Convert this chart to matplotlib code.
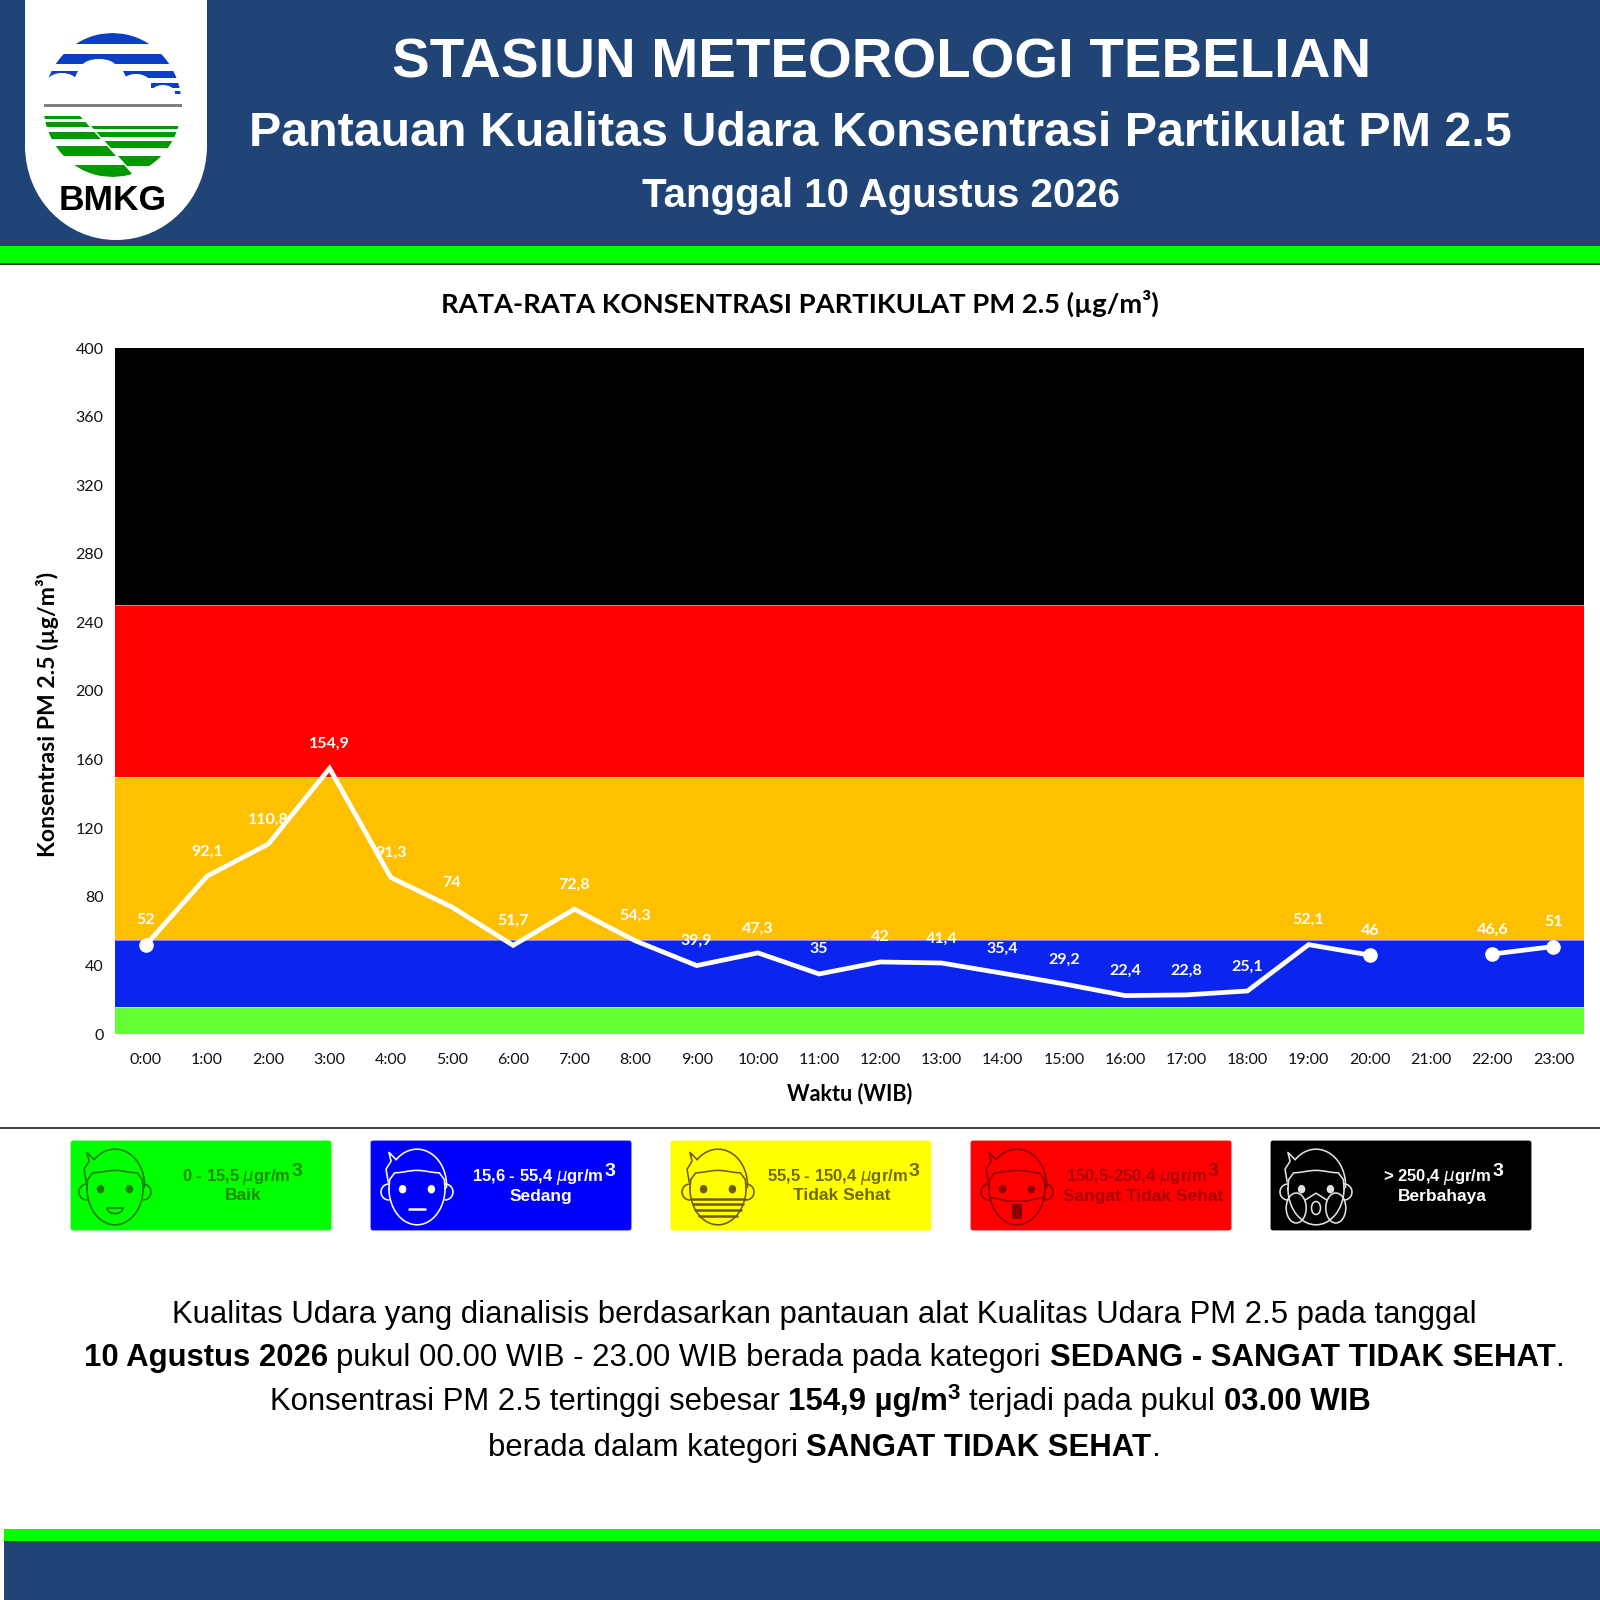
import numpy as np
import matplotlib
matplotlib.use("Agg")
import matplotlib.pyplot as plt
from matplotlib.patches import Rectangle, FancyBboxPatch, PathPatch, Ellipse, Polygon
from matplotlib.path import Path
from matplotlib.font_manager import FontProperties

hours = ["0:00","1:00","2:00","3:00","4:00","5:00","6:00","7:00","8:00","9:00","10:00","11:00",
         "12:00","13:00","14:00","15:00","16:00","17:00","18:00","19:00","20:00","21:00","22:00","23:00"]
pm25 = [52, 92.1, 110.8, 154.9, 91.3, 74, 51.7, 72.8, 54.3, 39.9, 47.3, 35,
        42, 41.4, 35.4, 29.2, 22.4, 22.8, 25.1, 52.1, 46, None, 46.6, 51]
band_edges = [0, 15.5, 54.7, 150, 250.4, 400]
band_colors = ["#66FF33", "#0B24EE", "#FFC000", "#FF0000", "#000000"]
yticks = list(range(0, 401, 40))

legend_ranges = ["0 - 15,5 $\\mu$gr/m", "15,6 - 55,4 $\\mu$gr/m", "55,5 - 150,4 $\\mu$gr/m",
                 "150,5-250,4 $\\mu$gr/m", "> 250,4 $\\mu$gr/m"]
legend_names = ["Baik", "Sedang", "Tidak Sehat", "Sangat Tidak Sehat", "Berbahaya"]
legend_fill = ["#00FF00", "#0000FF", "#FFFF00", "#FF0000", "#000000"]
legend_ink = ["#1F8A00", "#FFFFFF", "#6F6A00", "#A80000", "#FFFFFF"]
legend_icon = ["#1B7A00", "#FFFFFF", "#6B5A00", "#8A0000", "#E0E0E0"]
legend_kind = ["smile", "flat", "mask", "n95", "gas"]

NAVY = "#204476"
LIME = "#00FF00"
SANS = "Liberation Sans"
CHART = "Lato"

fig = plt.figure(figsize=(16, 16), dpi=100, facecolor="white")
bg = fig.add_axes([0, 0, 1, 1], zorder=0)
bg.set_xlim(0, 1600); bg.set_ylim(1600, 0); bg.axis("off")

# header and footer
bg.add_patch(Rectangle((0, 0), 1600, 246, color=NAVY, lw=0))
bg.add_patch(Rectangle((0, 246), 1600, 17, color=LIME, lw=0))
bg.add_patch(Rectangle((0, 263), 1600, 2, color="#1a3a1a", lw=0))
bg.add_patch(Rectangle((4, 1529), 1596, 12, color=LIME, lw=0))
bg.add_patch(Rectangle((4, 1541), 1596, 59, color=NAVY, lw=0))
bg.add_patch(Rectangle((0, 1127), 1600, 1.6, color="#444444", lw=0))

# logo shield
shield = Path([(25, 0), (207, 0), (207, 145), (207, 200), (165, 240), (116, 240), (67, 240), (25, 200), (25, 145), (25, 0)],
              [Path.MOVETO, Path.LINETO, Path.LINETO, Path.CURVE4, Path.CURVE4, Path.CURVE4, Path.CURVE4, Path.CURVE4, Path.CURVE4, Path.CLOSEPOLY])
bg.add_patch(PathPatch(shield, fc="white", ec="none"))

LOGO_CX, LOGO_CY, LOGO_RX, LOGO_RY = 112.5, 105, 69, 72
def half_width(y):
    return LOGO_RX*np.sqrt(np.clip(1 - ((y - LOGO_CY)/LOGO_RY)**2, 0, 1))
def stripe(y0, y1, color, xmin=None, xmax=None, zorder=2):
    ys = np.linspace(y0, y1, 12)
    xl = LOGO_CX - half_width(ys)
    xr = LOGO_CX + half_width(ys)
    if xmin is not None:
        xl = np.maximum(xl, xmin(ys))
    if xmax is not None:
        xr = np.minimum(xr, xmax(ys))
    pts = np.r_[np.c_[xl, ys], np.c_[xr, ys][::-1]]
    bg.add_patch(Polygon(pts, closed=True, color=color, lw=0, zorder=zorder))

BLUE = "#0B3FC4"
GREEN = "#009900"
stripe(33, 44, BLUE)
stripe(54, 64, BLUE)
stripe(71, 78, BLUE, xmax=lambda y: 78 - (y-71)*0.5)
stripe(71, 78, BLUE, xmin=lambda y: 123 + (y-71)*0.5)
stripe(83, 88, BLUE, xmin=lambda y: 151 + 0*y)
stripe(91, 94, BLUE, xmin=lambda y: 170 + 0*y)
for cx, cy, w, h in [(99, 68, 36, 18), (62, 82, 30, 18), (136, 84, 30, 20), (163, 93, 24, 16)]:
    bg.add_patch(Ellipse((cx, cy), w, h, color="white", lw=0, zorder=3))
bg.add_patch(Rectangle((44, 104), 138, 2.6, color="#808080", lw=0, zorder=4))
diag_l = lambda y: 80 + (y - 116)*0.9
diag_r = lambda y: 91 + (y - 126)*0.9
for y0, y1 in [(116, 119), (122, 127), (132, 139), (146, 156), (165, 177)]:
    stripe(y0, y1, GREEN, xmax=diag_l)
for y0, y1 in [(126, 129), (132, 137), (141, 148), (156, 166)]:
    stripe(y0, y1, GREEN, xmin=diag_r)
bg.text(113, 201, "BMKG", family=SANS, weight="bold", fontsize=25.5, color="black", ha="center", va="center", zorder=5)

# header text
bg.text(882, 63, "STASIUN METEOROLOGI TEBELIAN", family=SANS, weight="bold", fontsize=40.6, color="white", ha="center", va="center")
bg.text(880, 134, "Pantauan Kualitas Udara Konsentrasi Partikulat PM 2.5", family=SANS, weight="bold", fontsize=34.8, color="white", ha="center", va="center")
bg.text(881, 196, "Tanggal 10 Agustus 2026", family=SANS, weight="bold", fontsize=29, color="white", ha="center", va="center")
bg.text(800, 303, "RATA-RATA KONSENTRASI PARTIKULAT PM 2.5 (µg/m³)", family=CHART, weight="bold", fontsize=19.7, color="black", ha="center", va="center")

# chart
ax = fig.add_axes([115.4/1600, (1600-1034)/1600, (1584-115.4)/1600, 686/1600], zorder=2)
ax.patch.set_alpha(0)
x = np.arange(len(hours))
for lo, hi, c in zip(band_edges[:-1], band_edges[1:], band_colors):
    ax.axhspan(lo, hi, color=c, lw=0, zorder=1)
for e in band_edges[1:-1]:
    ax.axhline(e, color="white", lw=0.6, alpha=0.55, zorder=1.5)
vals = np.array([np.nan if v is None else v for v in pm25], dtype=float)
isolated = [i for i in range(len(vals)) if not np.isnan(vals[i]) and (i == 0 or i == len(vals)-1 or np.isnan(vals[i-1]) or np.isnan(vals[i+1]))]
ax.plot(x, vals, color="white", lw=3.4, solid_joinstyle="miter", zorder=3)
ax.plot(x[isolated], vals[isolated], ls="none", marker="o", ms=9.5, color="white", zorder=3)
for xi, v in zip(x, pm25):
    if v is None:
        continue
    ax.annotate(f"{v:g}".replace(".", ","), (xi, v), xytext=(0, 17.7), textcoords="offset points", ha="center", va="center",
                family=CHART, weight="bold", fontsize=11.5, color="white", zorder=4)
ax.set_xlim(-0.5, len(hours) - 0.5)
ax.set_ylim(0, 400)
ax.set_xticks(x, hours)
ax.set_yticks(yticks)
ax.tick_params(length=0, labelsize=11.5, colors="#111111")
ax.tick_params(axis="x", pad=14)
ax.tick_params(axis="y", pad=8.5)
for lab in ax.get_xticklabels() + ax.get_yticklabels():
    lab.set_family(CHART)
for s in ax.spines.values():
    s.set_visible(False)
bg.text(850, 1094, "Waktu (WIB)", family=CHART, weight="bold", fontsize=15.5, color="black", ha="center", va="center")
bg.text(48, 714, "Konsentrasi PM 2.5 (µg/m³)", family=CHART, weight="bold", fontsize=16.6, color="black", rotation=90, ha="center", va="center")

# legend cards
def face(cx, cy, color, kind):
    sx, sy = 36, 40
    lw = 1.15
    def L(u, v, **k):
        bg.plot(cx + np.asarray(u)*sx, cy + np.asarray(v)*sy, color=color, lw=k.get("lw", lw),
                solid_capstyle="round", solid_joinstyle="round", zorder=6)
    t = np.linspace(0, np.pi, 60)
    L(0.78*np.cos(t), 0.05 + 0.92*np.sin(t))
    u = np.linspace(-0.62, 0.62, 30)
    L(np.r_[-0.78, -0.76, u, 0.76, 0.78], np.r_[0.08, -0.16, -0.36 - 0.03*np.cos(u*5), -0.16, 0.08])
    a = np.linspace(np.pi*1.25, np.pi*2.02, 50)
    L(0.82*np.cos(a), -0.02 + 0.9*np.sin(a))
    L([-0.58, -0.78, -0.72, -0.86, -0.8], [-0.66, -0.84, -0.62, -0.42, -0.1])
    for sgn in (-1, 1):
        a = np.linspace(-np.pi/2, np.pi/2, 20)
        L(sgn*(0.78 + 0.22*np.cos(a)), 0.15 + 0.2*np.sin(a))
        bg.add_patch(Ellipse((cx + sgn*0.4*sx, cy + 0.08*sy), 7.5, 8.5, color=color, lw=0, zorder=6))
    if kind == "smile":
        a = np.linspace(0.1, np.pi-0.1, 20)
        L(0.22*np.cos(a), 0.55 + 0.14*np.sin(a))
        L([-0.22, 0.22], [0.56, 0.56])
    elif kind == "flat":
        L([-0.22, 0.22], [0.58, 0.58], lw=1.8)
    elif kind == "mask":
        for v in [0.32, 0.46, 0.6, 0.74]:
            h = 0.78*np.sqrt(max(0, 1-((v-0.05)/0.92)**2))
            L([-h, h], [v, v], lw=1.8)
    elif kind == "n95":
        L([-0.74, -0.25, 0.25, 0.74], [0.28, 0.38, 0.38, 0.28])
        bg.add_patch(Rectangle((cx-5, cy+0.46*sy), 10, 15, fc=color, ec="none", zorder=6))
    elif kind == "gas":
        for sgn in (-1, 1):
            bg.add_patch(Ellipse((cx + sgn*0.55*sx, cy + 0.55*sy), 20, 30, fc="none", ec=color, lw=lw, zorder=6))
        bg.add_patch(Ellipse((cx, cy + 0.55*sy), 9, 13, fc="none", ec=color, lw=lw, zorder=6))
        L([-0.3, 0, 0.3], [0.35, 0.18, 0.35])

card_lefts = [71, 371, 671, 971, 1271]
card_face = [115, 417, 718, 1017, 1316]
card_range_x = [236, 538, 837, 1136, 1437]
card_name_x = [243, 541, 842, 1143, 1442]
for i in range(5):
    bg.add_patch(FancyBboxPatch((card_lefts[i], 1141), 260, 89, boxstyle="round,pad=0,rounding_size=2",
                                fc=legend_fill[i], ec=legend_fill[i], lw=0.6, zorder=5))
    face(card_face[i], 1186, legend_icon[i], legend_kind[i])
    t = bg.text(card_range_x[i], 1177, legend_ranges[i], family=SANS, weight="bold", fontsize=12, color=legend_ink[i],
                ha="center", va="center", zorder=7, math_fontfamily="dejavusans")
    bbox = t.get_window_extent(fig.canvas.get_renderer())
    bg.text(card_range_x[i] + bbox.width/2 + 1, 1171, "3", family=SANS, weight="bold", fontsize=14, color=legend_ink[i], ha="left", va="center", zorder=7)
    bg.text(card_name_x[i], 1196, legend_names[i], family=SANS, weight="bold", fontsize=12.5, color=legend_ink[i], ha="center", va="center", zorder=7)

# paragraph with mixed weights
rend = fig.canvas.get_renderer()
BODY = 22.4
def advance(s, weight, size):
    fp = FontProperties(family=SANS, weight=weight, size=size)
    w1 = rend.get_text_width_height_descent("|" + s + "|", fp, False)[0]
    w0 = rend.get_text_width_height_descent("||", fp, False)[0]
    return (w1 - w0)

def runs(xc, base, parts):
    total = 0
    for s, w, sup in parts:
        total += advance(s, w, BODY*0.72 if sup else BODY)
    xp = xc - total/2
    for s, w, sup in parts:
        size = BODY*0.72 if sup else BODY
        lead = len(s) - len(s.lstrip(" "))
        off = advance(" "*lead, w, size) if lead else 0
        bg.text(xp + off, base - (11 if sup else 0), s.strip(" "), family=SANS, weight=w, fontsize=size, color="black", ha="left", va="baseline")
        xp += advance(s, w, size)

runs(824, 1323, [("Kualitas Udara yang dianalisis berdasarkan pantauan alat Kualitas Udara PM 2.5 pada tanggal", "normal", False)])
runs(824, 1366, [("10 Agustus 2026", "bold", False), (" pukul 00.00 WIB - 23.00 WIB berada pada kategori ", "normal", False),
                 ("SEDANG - SANGAT TIDAK SEHAT", "bold", False), (".", "normal", False)])
runs(820, 1410, [("Konsentrasi PM 2.5 tertinggi sebesar ", "normal", False), ("154,9 µg/m", "bold", False), ("3", "bold", True),
                 (" terjadi pada pukul ", "normal", False), ("03.00 WIB", "bold", False)])
runs(824, 1456, [("berada dalam kategori ", "normal", False), ("SANGAT TIDAK SEHAT", "bold", False), (".", "normal", False)])

fig.savefig("out.png", dpi=100, facecolor="white")
